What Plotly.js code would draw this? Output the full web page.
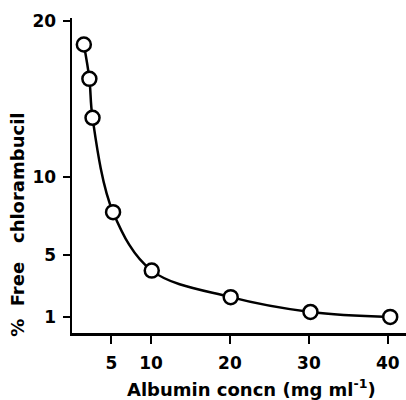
<!DOCTYPE html>
<html>
<head>
<meta charset="utf-8">
<script src="https://cdn.plot.ly/plotly-3.0.1.min.js"></script>
<style>html,body{margin:0;padding:0;background:#fff;}#chart{width:406px;height:400px;}</style>
</head>
<body>
<div id="chart"></div>
<script>
const albumin = [1.5, 2.2, 2.6, 5.2, 10.1, 20.1, 30.2, 40.3];
const freeChlorambucil = [18.5, 16.3, 13.8, 7.75, 4.0, 2.3, 1.35, 1.03];
const xTicks = [5, 10, 20, 30, 40];
const yTicks = [1, 5, 10, 20];

const fontFam = '"DejaVu Sans", sans-serif';
const trace = {
  x: albumin, y: freeChlorambucil,
  mode: 'lines+markers',
  line: {color: '#000', width: 2.5, shape: 'spline', smoothing: 1},
  marker: {symbol: 'circle', size: 14, color: '#fff', line: {color: '#000', width: 2.5}},
  hoverinfo: 'none'
};
const layout = {
  width: 406, height: 400,
  margin: {l: 72, r: 0, t: 18, b: 67},
  paper_bgcolor: '#fff', plot_bgcolor: '#fff',
  showlegend: false,
  font: {family: fontFam, color: '#000'},
  xaxis: {
    range: [0, 42.3], tickvals: xTicks, ticktext: xTicks.map(String),
    ticks: 'outside', ticklen: 8, tickwidth: 2, tickcolor: '#000',
    showline: true, linecolor: '#000', linewidth: 2.5, showgrid: false, zeroline: false,
    tickfont: {size: 17, family: fontFam, weight: 'bold'},
    ticklabelstandoff: 5
  },
  yaxis: {
    range: [0, 20.2], tickvals: yTicks, ticktext: yTicks.map(String),
    ticks: 'outside', ticklen: 7, tickwidth: 2, tickcolor: '#000',
    showline: true, linecolor: '#000', linewidth: 2.5, showgrid: false, zeroline: false,
    tickfont: {size: 17, family: fontFam, weight: 'bold'},
    ticklabelstandoff: 3
  },
  annotations: [{
    text: '%  Free   chlorambucil', textangle: -90,
    xref: 'paper', yref: 'paper', x: -0.162, y: 0.343,
    xanchor: 'center', yanchor: 'middle', showarrow: false,
    font: {size: 18, family: fontFam, weight: 'bold', color: '#000'}
  }, {
    text: 'Albumin concn (mg ml<sup>-1</sup>)',
    xref: 'paper', yref: 'paper', x: 0.536, y: -0.175,
    xanchor: 'center', yanchor: 'middle', showarrow: false,
    font: {size: 18, family: fontFam, weight: 'bold', color: '#000'}
  }]
};
Plotly.newPlot('chart', [trace], layout, {staticPlot: true});
</script>
</body>
</html>
